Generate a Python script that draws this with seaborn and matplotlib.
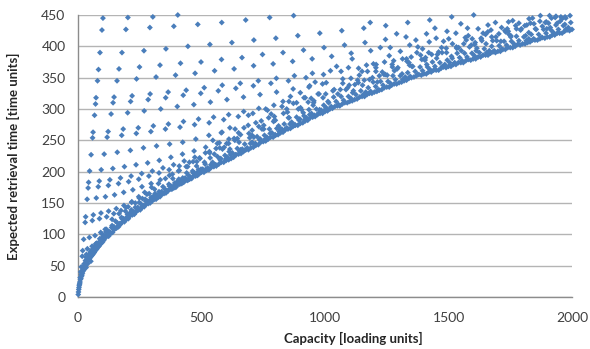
import numpy as np
import pandas as pd
import matplotlib
matplotlib.use('Agg')
import matplotlib.pyplot as plt
import seaborn as sns

# 数据：容量 [loading units] 与期望取货时间 [time units]，按图中读取的估计值

# 下边缘（紧密带）0-120
cap_edge_a = [1, 2, 3, 4, 5, 6, 7, 8, 10, 12, 14, 16, 18, 20, 22, 24, 26, 28, 31, 34,
              37, 40, 43, 46, 50, 54, 58, 62, 66, 70, 75, 80, 85, 90, 95, 100, 105, 110, 115, 120]
ret_edge_a = [4, 8, 12, 15, 18, 20, 22, 24, 28, 30, 33, 35, 38, 41, 43, 45, 47, 49, 51, 53,
              56, 58, 60, 61, 63, 65, 67, 69, 71, 74, 76, 79, 81, 84, 86, 88, 91, 94, 97, 99]
cap_in_a = [9, 13, 17, 21, 25, 30, 35, 41, 47, 53, 60, 67, 74, 82, 91, 98, 106, 113, 118,
            32, 44, 56, 64, 72, 88, 96, 110]
ret_in_a = [31, 36, 42, 47, 53, 58, 60, 65, 66, 71, 74, 78, 80, 86, 91, 95, 98, 104, 106,
            64, 68, 75, 80, 85, 93, 101, 108]

# 紧密带 120-500
cap_edge_b = [124, 132, 140, 148, 156, 164, 172, 180, 188, 196, 204, 212, 220, 228, 236, 244,
              252, 260, 268, 276, 284, 292, 300, 308, 316, 324, 332, 340, 348, 356, 364, 372,
              380, 388, 396, 404, 412, 420, 428, 436, 444, 452, 460, 468, 476, 484, 492, 500]
ret_edge_b = [97, 101, 103, 108, 110, 112, 116, 120, 120, 124, 125, 130, 131, 132, 136, 139,
              139, 143, 144, 148, 149, 150, 153, 156, 156, 159, 160, 164, 165, 166, 169, 172,
              172, 174, 175, 179, 180, 181, 183, 186, 186, 188, 189, 193, 193, 194, 197, 199]
cap_in_b = [128, 136, 144, 152, 160, 168, 176, 184, 192, 200, 208, 216, 224, 232, 240, 248,
            256, 264, 272, 280, 288, 296, 304, 312, 320, 328, 336, 344, 352, 360, 368, 376,
            384, 392, 400, 408, 416, 424, 432, 440, 448, 456, 464, 472, 480, 488, 496]
ret_in_b = [104, 111, 109, 121, 118, 117, 127, 125, 137, 132, 130, 139, 136, 143, 140, 151,
            148, 146, 156, 153, 165, 159, 157, 165, 162, 168, 165, 176, 172, 170, 180, 177,
            189, 182, 180, 188, 185, 190, 187, 198, 194, 191, 201, 198, 209, 203, 200]
cap_in_b2 = [130, 146, 162, 178, 194, 210, 226, 242, 258, 274, 290, 306, 322, 338, 354, 370,
             386, 402, 418, 434, 450, 466, 482, 498]
ret_in_b2 = [103, 112, 113, 125, 126, 134, 135, 143, 143, 153, 154, 161, 161, 168, 168, 177,
             177, 184, 183, 190, 189, 198, 198, 204]
cap_top_b = [138, 166, 194, 218, 246, 270, 298, 326, 354, 382, 410, 438, 466, 494]
ret_top_b = [124, 133, 143, 152, 160, 167, 175, 181, 189, 196, 202, 208, 216, 221]

# 紧密带 500-1000
cap_edge_c = [510, 520, 530, 540, 550, 560, 570, 580, 590, 600, 610, 620, 630, 640, 650, 660,
              670, 680, 690, 700, 710, 720, 730, 740, 750, 760, 770, 780, 790, 800, 810, 820,
              830, 840, 850, 860, 870, 880, 890, 900, 910, 920, 930, 940, 950, 960, 970, 980,
              990, 1000]
ret_edge_c = [199, 202, 203, 207, 208, 209, 212, 215, 215, 218, 219, 221, 223, 227, 228, 229,
              232, 235, 235, 238, 239, 242, 243, 247, 248, 249, 252, 255, 255, 258, 259, 262,
              263, 267, 268, 269, 272, 274, 274, 277, 278, 281, 282, 286, 287, 288, 291, 293,
              293, 296]
cap_in_c = [505, 515, 525, 535, 545, 555, 565, 575, 585, 595, 605, 615, 625, 635, 645, 655,
            665, 675, 685, 695, 705, 715, 725, 735, 745, 755, 765, 775, 785, 795, 805, 815,
            825, 835, 845, 855, 865, 875, 885, 895, 905, 915, 925, 935, 945, 955, 965, 975,
            985, 995]
ret_in_c = [204, 212, 206, 222, 215, 211, 224, 219, 236, 226, 223, 236, 230, 250, 237, 232,
            236, 244, 238, 254, 247, 243, 256, 251, 268, 258, 255, 268, 262, 282, 269, 264,
            268, 276, 270, 286, 279, 274, 287, 282, 299, 289, 286, 299, 293, 313, 300, 294,
            298, 306]
cap_in_c2 = [518, 538, 558, 578, 598, 618, 638, 658, 678, 698, 718, 738, 758, 778, 798, 818,
             838, 858, 878, 898, 918, 938, 958, 978, 998]
ret_in_c2 = [204, 211, 211, 221, 220, 227, 227, 235, 235, 245, 245, 252, 252, 261, 259, 268,
             267, 276, 275, 284, 283, 291, 290, 299, 298]
cap_top_c = [512, 532, 552, 572, 592, 612, 632, 652, 672, 692, 712, 732, 752, 772, 792, 812,
             832, 852, 872, 892, 912, 932, 952, 972, 992]
ret_top_c = [215, 232, 228, 246, 239, 232, 253, 247, 270, 261, 255, 272, 268, 286, 280, 273,
             293, 286, 309, 300, 294, 311, 306, 324, 318]

# 紧密带 1000-1500
cap_edge_d = [1010, 1020, 1030, 1040, 1050, 1060, 1070, 1080, 1090, 1100, 1110, 1120, 1130,
              1140, 1150, 1160, 1170, 1180, 1190, 1200, 1210, 1220, 1230, 1240, 1250, 1260,
              1270, 1280, 1290, 1300, 1310, 1320, 1330, 1340, 1350, 1360, 1370, 1380, 1390,
              1400, 1410, 1420, 1430, 1440, 1450, 1460, 1470, 1480, 1490, 1500]
ret_edge_d = [297, 300, 301, 304, 305, 305, 308, 310, 310, 312, 313, 315, 316, 319, 320, 320,
              323, 325, 325, 327, 328, 330, 331, 334, 335, 335, 338, 340, 340, 342, 343, 345,
              346, 349, 350, 351, 353, 355, 354, 356, 356, 359, 359, 362, 362, 362, 365, 367,
              366, 368]
cap_in_d = [1005, 1015, 1025, 1035, 1045, 1055, 1065, 1075, 1085, 1095, 1105, 1115, 1125,
            1135, 1145, 1155, 1165, 1175, 1185, 1195, 1205, 1215, 1225, 1235, 1245, 1255,
            1265, 1275, 1285, 1295, 1305, 1315, 1325, 1335, 1345, 1355, 1365, 1375, 1385,
            1395, 1405, 1415, 1425, 1435, 1445, 1455, 1465, 1475, 1485, 1495]
ret_in_d = [302, 310, 304, 319, 312, 307, 320, 314, 331, 320, 317, 329, 323, 342, 329, 323,
            327, 334, 328, 343, 336, 331, 344, 338, 355, 344, 341, 353, 347, 366, 353, 347,
            351, 358, 352, 368, 360, 355, 367, 361, 378, 367, 363, 375, 368, 387, 374, 368,
            371, 378]
cap_top_d = [1012, 1032, 1052, 1072, 1092, 1112, 1132, 1152, 1172, 1192, 1212, 1232, 1252,
             1272, 1292, 1312, 1332, 1352, 1372, 1392, 1412, 1432, 1452, 1472, 1492]
ret_top_d = [312, 329, 324, 341, 334, 326, 346, 338, 360, 350, 343, 359, 354, 371, 364, 356,
             376, 368, 390, 379, 371, 387, 381, 398, 390]

# 紧密带 1500-2000
cap_edge_e = [1510, 1520, 1530, 1540, 1550, 1560, 1570, 1580, 1590, 1600, 1610, 1620, 1630,
              1640, 1650, 1660, 1670, 1680, 1690, 1700, 1710, 1720, 1730, 1740, 1750, 1760,
              1770, 1780, 1790, 1800, 1810, 1820, 1830, 1840, 1850, 1860, 1870, 1880, 1890,
              1900, 1910, 1920, 1930, 1940, 1950, 1960, 1970, 1980, 1990, 2000]
ret_edge_e = [368, 371, 371, 374, 374, 374, 377, 379, 378, 380, 380, 383, 383, 386, 386, 386,
              389, 391, 390, 392, 392, 395, 395, 398, 398, 398, 400, 403, 402, 404, 404, 406,
              407, 410, 410, 410, 412, 414, 413, 415, 415, 418, 418, 421, 421, 421, 424, 426,
              425, 427]
cap_in_e = [1505, 1515, 1525, 1535, 1545, 1555, 1565, 1575, 1585, 1595, 1605, 1615, 1625,
            1635, 1645, 1655, 1665, 1675, 1685, 1695, 1705, 1715, 1725, 1735, 1745, 1755,
            1765, 1775, 1785, 1795, 1805, 1815, 1825, 1835, 1845, 1855, 1865, 1875, 1885,
            1895, 1905, 1915, 1925, 1935, 1945, 1955, 1965, 1975, 1985, 1995]
ret_in_e = [374, 381, 374, 389, 382, 377, 389, 383, 399, 389, 385, 397, 390, 409, 396, 390,
            393, 400, 393, 409, 401, 396, 408, 402, 419, 408, 404, 416, 409, 428, 415, 409,
            412, 419, 412, 427, 419, 414, 427, 421, 437, 426, 422, 434, 427, 447, 433, 427,
            430, 438]
cap_top_e = [1512, 1532, 1552, 1572, 1592, 1612, 1632, 1652, 1672, 1692, 1712, 1732, 1752,
             1772, 1792, 1812, 1832, 1852, 1872, 1892, 1912, 1932, 1952, 1972, 1992]
ret_top_e = [384, 399, 393, 410, 402, 393, 413, 404, 426, 415, 408, 423, 417, 433, 426, 417,
             437, 428, 449, 438, 430, 446, 440, 447, 449]

# 带上方的零散点
cap_extra_mid = [546, 580, 615, 650, 690, 720, 760, 782, 830, 860, 900, 935, 960, 990,
                 610, 705, 845, 920]
ret_extra_mid = [250, 262, 270, 262, 290, 278, 300, 292, 312, 320, 326, 335, 343, 340,
                 245, 258, 300, 318]
cap_extra_hi = [1047, 1110, 1183, 1196, 1224, 1260, 1290, 1305, 1368, 1395, 1445, 1450, 1480,
                1530, 1550, 1568, 1620, 1640, 1690, 1715, 1760, 1785, 1840, 1870, 1935, 1960,
                1105, 1150, 1206, 1330, 1376, 1516, 1596, 1650, 1728, 1880, 1940]
ret_extra_hi = [368, 380, 438, 372, 398, 385, 420, 392, 410, 396, 429, 413, 408,
                421, 436, 414, 428, 421, 438, 430, 441, 437, 445, 440, 448, 444,
                349, 360, 366, 380, 399, 404, 412, 419, 425, 432, 437]

# 上方的斜排点（单一长边的配置）
cap_p11 = [11, 22, 33]
ret_p11 = [40, 43, 47]
cap_p13 = [13, 26, 39, 52]
ret_p13 = [48, 50, 53, 57]
cap_p17 = [17, 34, 51]
ret_p17 = [65, 68, 73]
cap_p19 = [19, 38, 57, 76]
ret_p19 = [74, 77, 81, 86]
cap_p23 = [23, 46, 69, 92, 115, 138]
ret_p23 = [92, 95, 98, 103, 108, 114]
cap_p29 = [29, 58, 87, 116, 145, 174, 203, 232, 261]
ret_p29 = [119, 122, 125, 128, 133, 138, 144, 150, 157]
cap_p31 = [31, 62, 93, 124, 155, 186, 217, 248, 279, 310]
ret_p31 = [128, 131, 134, 137, 141, 146, 151, 158, 164, 172]
cap_p37 = [37, 74, 111, 148, 185, 222, 259, 296, 333, 370, 407, 444, 481]
ret_p37 = [156, 158, 160, 163, 167, 171, 176, 181, 187, 194, 201, 208, 216]
cap_p41 = [41, 82, 123, 164, 205, 246, 287, 328, 369, 410, 451, 492, 533, 574]
ret_p41 = [174, 176, 178, 181, 184, 188, 193, 198, 203, 209, 215, 222, 230, 238]
cap_p43 = [43, 86, 129, 172, 215, 258, 301, 344, 387, 430, 473, 516, 559, 602, 645]
ret_p43 = [183, 185, 187, 190, 193, 197, 201, 206, 211, 217, 223, 230, 237, 245, 253]
cap_p47 = [47, 94, 141, 188, 235, 282, 329, 376, 423, 470, 517, 564, 611, 658, 705, 752, 799]
ret_p47 = [201, 203, 205, 208, 211, 214, 218, 223, 228, 233, 239, 245, 252, 259, 266, 274, 282]
cap_p53 = [53, 106, 159, 212, 265, 318, 371, 424, 477, 530, 583, 636, 689, 742, 795, 848,
           901, 954]
ret_p53 = [227, 228, 231, 234, 238, 241, 244, 247, 252, 258, 263, 268, 274, 281, 288, 295,
           302, 310]
cap_p59 = [59, 118, 177, 236, 295, 354, 413, 472, 531, 590, 649, 708, 767, 826, 885, 944,
           1003, 1062, 1121, 1180, 1239]
ret_p59 = [254, 255, 258, 261, 264, 268, 271, 275, 278, 283, 288, 293, 298, 304, 310, 317,
           324, 331, 339, 347, 355]
cap_p61 = [61, 122, 183, 244, 305, 366, 427, 488, 549, 610, 671, 732, 793, 854, 915, 976,
           1037, 1098, 1159, 1220, 1281, 1342, 1403]
ret_p61 = [263, 264, 268, 270, 273, 276, 280, 284, 287, 291, 296, 301, 306, 312, 318, 324,
           331, 338, 346, 353, 361, 370, 379]
cap_p67 = [67, 134, 201, 268, 335, 402, 469, 536, 603, 670, 737, 804, 871, 938, 1005, 1072,
           1139, 1206, 1273, 1340, 1407, 1474, 1541, 1608, 1675, 1742, 1809]
ret_p67 = [290, 292, 294, 297, 300, 304, 307, 311, 315, 319, 323, 327, 332, 337, 342, 348,
           354, 360, 367, 374, 382, 390, 398, 406, 415, 424, 433]
cap_p71 = [71, 142, 213, 284, 355, 426, 497, 568, 639, 710, 781, 852, 923, 994, 1065, 1136,
           1207, 1278, 1349, 1420, 1491, 1562, 1633, 1704, 1775, 1846, 1917]
ret_p71 = [308, 310, 312, 315, 318, 322, 325, 329, 333, 337, 341, 345, 350, 355, 360, 365,
           371, 377, 383, 390, 397, 404, 412, 420, 428, 436, 445]
cap_p73 = [73, 146, 219, 292, 365, 438, 511, 584, 657, 730, 803, 876, 949, 1022, 1095, 1168,
           1241, 1314, 1387, 1460, 1533, 1606, 1679, 1752, 1825, 1898, 1971]
ret_p73 = [318, 319, 321, 324, 327, 330, 334, 338, 341, 345, 349, 353, 357, 361, 366, 370,
           375, 380, 386, 391, 397, 403, 409, 415, 422, 428, 435]
cap_p79 = [79, 158, 237, 316, 395, 474, 553, 632, 711, 790, 869, 948, 1027, 1106, 1185, 1264,
           1343, 1422, 1501, 1580, 1659, 1738, 1817, 1896, 1975]
ret_p79 = [345, 345, 348, 351, 354, 357, 361, 364, 369, 372, 376, 380, 384, 389, 393, 398,
           402, 407, 412, 417, 423, 428, 434, 439, 445]
cap_p83 = [83, 166, 249, 332, 415, 498, 581, 664, 747, 830, 913, 996, 1079, 1162, 1245, 1328,
           1411, 1494, 1577, 1660, 1743, 1826, 1909]
ret_p83 = [363, 364, 367, 370, 373, 375, 379, 382, 387, 390, 394, 398, 402, 406, 411, 415,
           420, 424, 429, 434, 439, 444, 449]
cap_p89 = [89, 178, 267, 356, 445, 534, 623, 712, 801, 890, 979, 1068, 1157, 1246, 1335, 1424,
           1513, 1602]
ret_p89 = [390, 390, 393, 396, 400, 403, 406, 410, 413, 417, 421, 425, 429, 433, 438, 442,
           447, 450]
cap_p97 = [97, 194, 291, 388, 485, 582, 679, 776, 873]
ret_p97 = [426, 427, 430, 432, 435, 438, 442, 446, 449]
cap_p101 = [101, 202, 303, 404]
ret_p101 = [445, 446, 447, 450]

series = [
    (cap_edge_a, ret_edge_a), (cap_in_a, ret_in_a),
    (cap_edge_b, ret_edge_b), (cap_in_b, ret_in_b), (cap_in_b2, ret_in_b2), (cap_top_b, ret_top_b),
    (cap_edge_c, ret_edge_c), (cap_in_c, ret_in_c), (cap_in_c2, ret_in_c2), (cap_top_c, ret_top_c),
    (cap_edge_d, ret_edge_d), (cap_in_d, ret_in_d), (cap_top_d, ret_top_d),
    (cap_edge_e, ret_edge_e), (cap_in_e, ret_in_e), (cap_top_e, ret_top_e),
    (cap_extra_mid, ret_extra_mid), (cap_extra_hi, ret_extra_hi),
    (cap_p11, ret_p11), (cap_p13, ret_p13), (cap_p17, ret_p17), (cap_p19, ret_p19),
    (cap_p23, ret_p23), (cap_p29, ret_p29), (cap_p31, ret_p31), (cap_p37, ret_p37),
    (cap_p41, ret_p41), (cap_p43, ret_p43), (cap_p47, ret_p47), (cap_p53, ret_p53),
    (cap_p59, ret_p59), (cap_p61, ret_p61), (cap_p67, ret_p67), (cap_p71, ret_p71),
    (cap_p73, ret_p73), (cap_p79, ret_p79), (cap_p83, ret_p83), (cap_p89, ret_p89),
    (cap_p97, ret_p97), (cap_p101, ret_p101),
]
for c, r in series:
    assert len(c) == len(r), (len(c), len(r), c[0])

df = pd.DataFrame({
    'capacity': np.concatenate([np.asarray(c, dtype=float) for c, _ in series]),
    'time': np.concatenate([np.asarray(r, dtype=float) for _, r in series]),
})

# 样式
sns.set_style('white')
plt.rcParams['font.family'] = ['Lato', 'DejaVu Sans']

fig = plt.figure(figsize=(5.9, 3.49), dpi=100)
ax = fig.add_axes([78 / 590, 1 - 297 / 349, 494 / 590, 282 / 349])

sns.scatterplot(data=df, x='capacity', y='time', marker='D', s=9, color='#4A7EBB',
                edgecolor='none', linewidth=0, legend=False, ax=ax, clip_on=False, zorder=3)

ax.set_xlim(0, 2000)
ax.set_ylim(0, 450)
ax.set_xticks([0, 500, 1000, 1500, 2000])
ax.set_yticks(range(0, 451, 50))
ax.grid(axis='y', color='#b4b4b4', linewidth=1.0)
ax.grid(axis='x', visible=False)
ax.set_axisbelow(True)

for side in ['top', 'right']:
    ax.spines[side].set_visible(False)
for side in ['left', 'bottom']:
    ax.spines[side].set_color('#8c8c8c')
    ax.spines[side].set_linewidth(1.0)

ax.tick_params(axis='y', length=0, pad=9, labelsize=10, labelcolor='#404040')
ax.tick_params(axis='x', length=4, width=1, color='#8c8c8c', direction='out', pad=7,
               labelsize=10, labelcolor='#404040')

ax.set_xlabel('Capacity [loading units]', fontsize=9.5, fontweight='bold', color='#262626')
ax.set_ylabel('Expected retrieval time [time units]', fontsize=9.5, fontweight='bold',
              color='#262626')
ax.xaxis.set_label_coords(0.557, -0.125)
ax.yaxis.set_label_coords(-0.118, 0.5)

fig.savefig('out.png', dpi=100)
